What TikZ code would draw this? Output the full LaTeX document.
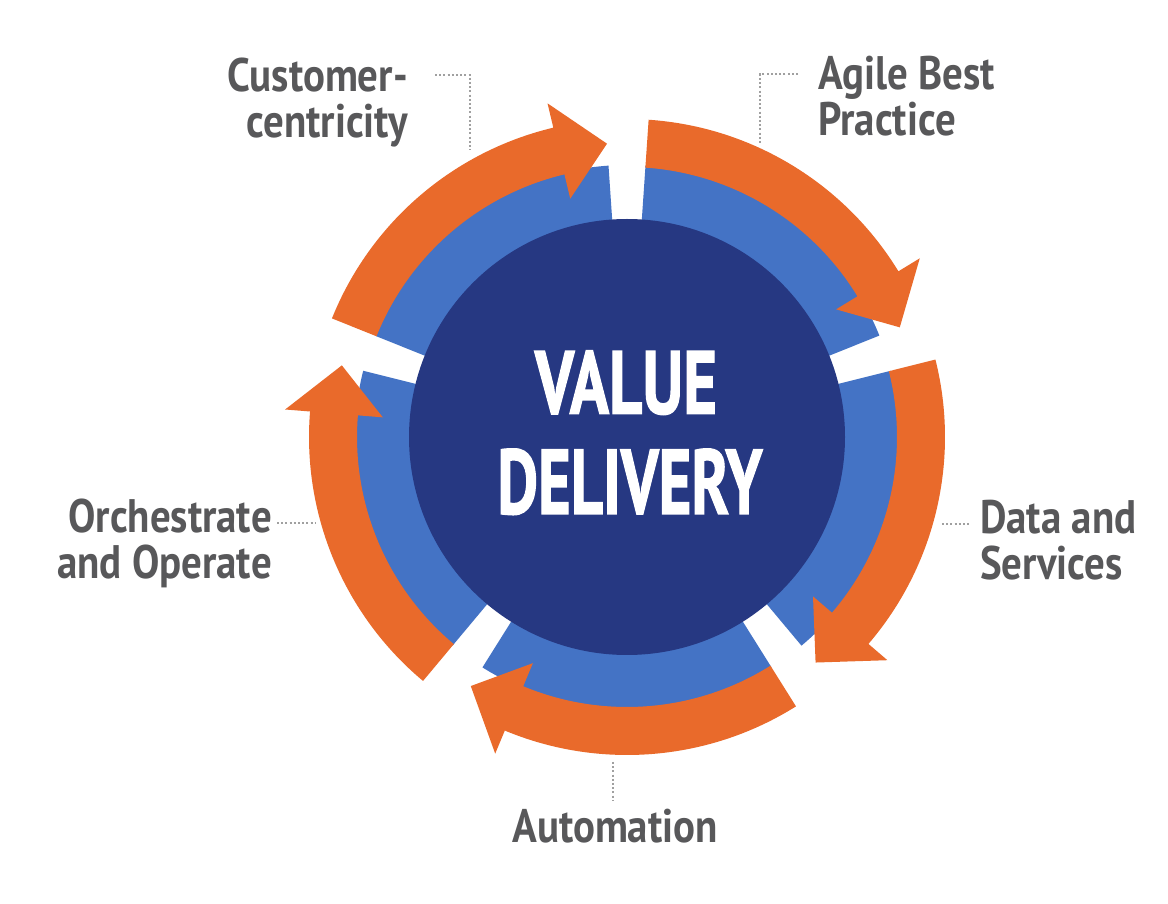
\documentclass[tikz,border=0pt]{standalone}
\usepackage{fontspec}
\setmainfont{PT Sans}
\newfontfamily\labelfont[FakeStretch=0.87]{PT Sans}
\newfontfamily\hubfont[FakeBold=1.6]{PT Sans}
\usetikzlibrary{calc}

\definecolor{hubnavy}{RGB}{38,56,130}
\definecolor{ringblue}{RGB}{68,115,197}
\definecolor{arroworange}{RGB}{233,106,43}
\definecolor{labelgray}{RGB}{88,88,90}
\definecolor{leadergray}{RGB}{160,160,160}

\begin{document}
\begin{tikzpicture}[x=1pt,y=1pt,
  steplabel/.style={inner sep=0pt, text=labelgray,
    font=\labelfont\bfseries\fontsize{47}{46}\selectfont},
  leader/.style={draw=leadergray, line width=1.3pt, dash pattern=on 2pt off 2.2pt},
  hubword/.style={inner sep=0pt, text=white}]

\useasboundingbox (0,0) rectangle (1168,903);
\fill[white] (0,0) rectangle (1168,903);

\coordinate (c) at (627,466);

% five ring segments: blue band with an orange curved arrow on top, clockwise
\begin{scope}[shift={(c)}]
\foreach \a/\b in {158.1/93.9, 86.1/21.9, 14.1/-50.1, -57.9/-122.1, -129.9/-194.1}{
  \pgfmathsetmacro\h{\b+9.5}
  \fill[ringblue] (\a:205) arc[start angle=\a, end angle=\b, radius=205pt]
     -- (\b:272) arc[start angle=\b, end angle=\a, radius=272pt] -- cycle;
  \fill[arroworange] (\a:270) -- (\a:318)
     arc[start angle=\a, end angle=\h, radius=318pt]
     -- (\h:343) -- (\b:294) -- (\h:245) -- (\h:270)
     arc[start angle=\h, end angle=\a, radius=270pt] -- cycle;
}
\end{scope}

% central hub
\node[circle, fill=hubnavy, minimum size=436pt, inner sep=0pt] (hub) at (c) {};
\node[hubword, anchor=south] (value) at (626,488)
  {\resizebox{182pt}{63pt}{\hubfont\bfseries VALUE}};
\node[hubword, anchor=south] (delivery) at (630,388)
  {\resizebox{265pt}{65pt}{\hubfont\bfseries DELIVERY}};

% labels (multi-line nodes sit on the baseline of their last line)
\node[steplabel, anchor=base east, align=right] (cust) at (408,765) {Customer-\\centricity};
\node[steplabel, anchor=base west, align=left] (agile) at (818,767) {Agile Best\\Practice};
\node[steplabel, anchor=base west, align=left] (data) at (980,323) {Data and\\Services};
\node[steplabel, anchor=base east, align=right] (orch) at (272,324) {Orchestrate\\and Operate};
\node[steplabel, anchor=base] (auto) at (615,61) {Automation};

% dotted leaders
\coordinate (cust-a) at (435,828);
\coordinate (cust-b) at (470,828);
\coordinate (cust-c) at (470,753);
\draw[leader] (cust-a) -- (cust-b) -- (cust-c);
\coordinate (agile-a) at (798,829);
\coordinate (agile-b) at (760,829);
\coordinate (agile-c) at (760,760);
\draw[leader] (agile-a) -- (agile-b) -- (agile-c);
\coordinate (data-a) at (942,379);
\coordinate (data-b) at (970,379);
\draw[leader] (data-a) -- (data-b);
\coordinate (orch-a) at (277,380);
\coordinate (orch-b) at (315,380);
\draw[leader] (orch-a) -- (orch-b);
\coordinate (auto-a) at (613,141);
\coordinate (auto-b) at (613,103);
\draw[leader] (auto-a) -- (auto-b);
\end{tikzpicture}
\end{document}
